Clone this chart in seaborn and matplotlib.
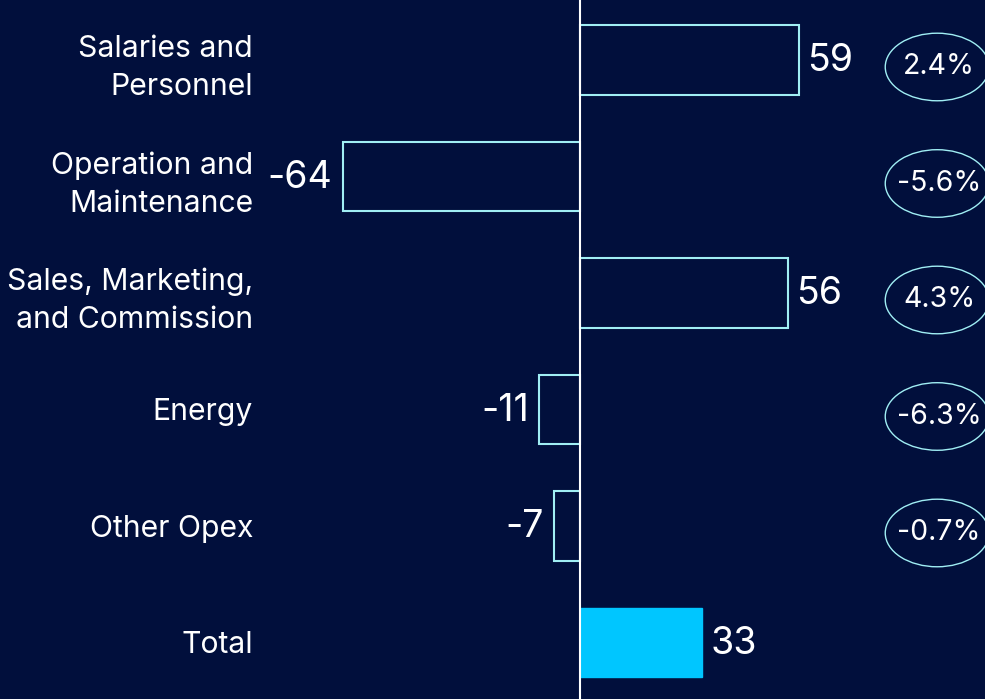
import matplotlib
matplotlib.use("Agg")
import matplotlib.pyplot as plt
from matplotlib.patches import Ellipse
import seaborn as sns
import pandas as pd

categories = ["Salaries and\nPersonnel", "Operation and\nMaintenance",
              "Sales, Marketing,\nand Commission", "Energy", "Other Opex", "Total"]
values = [59, -64, 56, -11, -7, 33]
pct_labels = ["2.4%", "-5.6%", "4.3%", "-6.3%", "-0.7%"]

BG = "#010f3c"
EDGE = "#a0eef4"
TOTAL = "#00c6ff"

sns.set_theme(style="white")
plt.rcParams["font.family"] = ["Inter", "DejaVu Sans"]

df = pd.DataFrame({"category": categories, "value": values})

fig = plt.figure(figsize=(9.85, 6.99), dpi=100, facecolor=BG)
ax = fig.add_axes([260 / 985, 0, 725 / 985, 1])
ax.set_facecolor(BG)

sns.barplot(data=df, x="value", y="category", orient="h", width=0.6,
            color=BG, ax=ax)

for i, p in enumerate(ax.patches):
    if i == len(categories) - 1:
        p.set_facecolor(TOTAL)
        p.set_edgecolor(TOTAL)
    else:
        p.set_facecolor(BG)
        p.set_edgecolor(EDGE)
        p.set_linewidth(1.5)

ax.set_xlim(-86.3, 109.2)
ax.set_ylim(5.485, -0.515)
ax.axvline(0, color="white", lw=1.5, zorder=5)

for i, v in enumerate(values):
    if v >= 0:
        ax.text(v + 2.2, i + 0.01, f"{v}", ha="left", va="center", color="white", fontsize=27)
    else:
        ax.text(v - 2.8, i + 0.01, f"{v}", ha="right", va="center", color="white", fontsize=27)

for i, t in enumerate(pct_labels):
    yc = i + 0.06
    ax.add_patch(Ellipse((96.3, yc), width=28, height=0.58, facecolor="none",
                         edgecolor=EDGE, lw=1.0, clip_on=False))
    ax.text(96.8, yc, t, ha="center", va="center", color="white", fontsize=20.5)

ax.set_xlabel("")
ax.set_ylabel("")
ax.set_xticks([])
ax.tick_params(axis="y", length=0, pad=5, labelsize=21.7, labelcolor="white")
for lbl in ax.get_yticklabels():
    lbl.set_linespacing(1.45)
for s in ax.spines.values():
    s.set_visible(False)

fig.savefig("out.png", dpi=100, facecolor=BG)
